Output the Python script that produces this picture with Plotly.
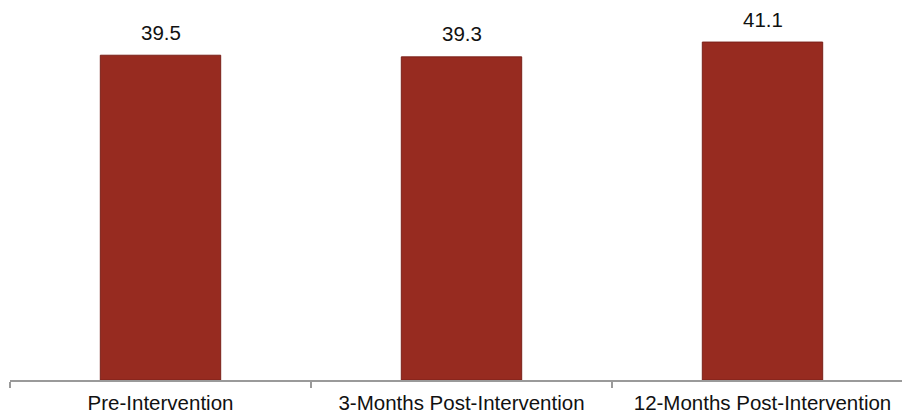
import plotly.graph_objects as go

# Mean scores at each assessment point
categories = ["Pre-Intervention", "3-Months Post-Intervention", "12-Months Post-Intervention"]
scores = [39.5, 39.3, 41.1]
score_labels = ["39.5", "39.3", "41.1"]

BAR_FILL = "#972B20"
BAR_EDGE = "#7A2119"
FONT = "Liberation Sans, Arial, sans-serif"

fig = go.Figure(
    go.Bar(
        x=categories,
        y=scores,
        width=0.4,
        marker=dict(color=BAR_FILL, line=dict(color=BAR_EDGE, width=1)),
        hoverinfo="skip",
    )
)

# value labels above each bar
for cat, val, lab in zip(categories, scores, score_labels):
    fig.add_annotation(
        x=cat, y=val, text=lab, showarrow=False,
        yanchor="middle", yshift=23,
        font=dict(family=FONT, size=20.5, color="#111111"),
    )

fig.update_layout(
    width=902,
    height=414,
    margin=dict(l=10, r=0, t=10, b=34),
    paper_bgcolor="white",
    plot_bgcolor="white",
    showlegend=False,
    font=dict(family=FONT, color="#111111"),
)

fig.update_xaxes(
    type="category",
    range=[-0.5, -0.5 + 892 / 301],
    showline=True, linecolor="#9A9A9A", linewidth=1.5,
    ticks="outside", tickson="boundaries", ticklen=6, tickcolor="#9A9A9A", tickwidth=1.5,
    showgrid=False,
    ticklabelstandoff=4,
    tickfont=dict(family=FONT, size=20.5, color="#111111"),
)
fig.update_yaxes(
    range=[0, 45],
    visible=False,
    showgrid=False,
    zeroline=False,
)

fig.write_html("out.html")
